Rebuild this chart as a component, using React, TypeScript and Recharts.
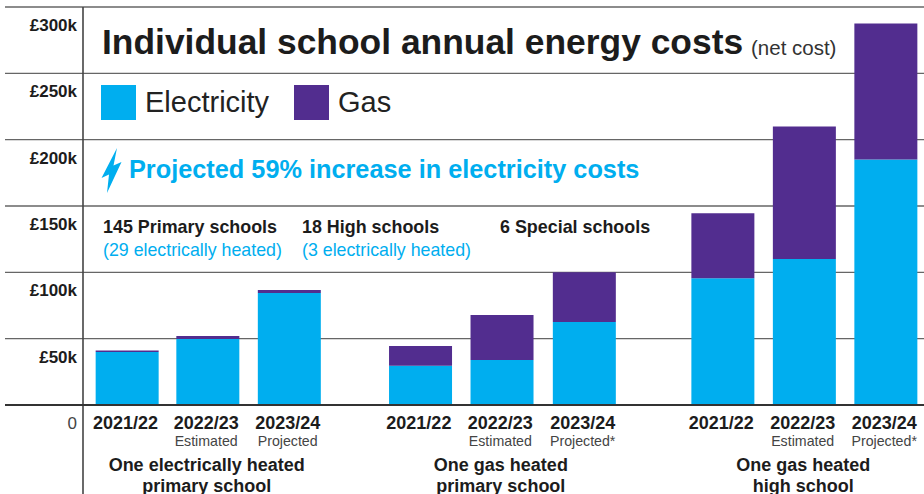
import { BarChart, Bar, XAxis, YAxis, CartesianGrid, Legend } from 'recharts'

const years = ['2021/22', '2022/23', '2023/24', '2021/22', '2022/23', '2023/24', '2021/22', '2022/23', '2023/24']
const notes = ['', 'Estimated', 'Projected', '', 'Estimated', 'Projected*', '', 'Estimated', 'Projected*']
const groupLabels = ['', 'One electrically heated|primary school', '', '', 'One gas heated|primary school', '', '', 'One gas heated|high school', '']
// bars sit in three clusters, so the x axis is a plain number line
const slots = [0, 0.99, 1.99, 3.6, 4.6, 5.61, 7.31, 8.31, 9.31]
const electricity = [40000, 49700, 84500, 29500, 34000, 62500, 95600, 110000, 185000]
const gas = [1000, 2300, 2100, 15000, 33800, 37500, 49000, 100000, 102500]
const yTicks = [0, 50000, 100000, 150000, 200000, 250000, 300000]

const BLUE = '#00aeef'
const PURPLE = '#522d8f'
const INK = '#1c1c1c'
const FONT = '"Liberation Sans", Arial, sans-serif'

const chartData = slots.map((slot, i) => ({
  slot,
  electricity: electricity[i],
  gas: gas[i],
}))

function YTick({ y, payload }: any) {
  const v = payload.value
  return (
    <text x={77} y={y + 24} textAnchor="end" fontFamily={FONT} fontSize={17} fontWeight={v === 0 ? 400 : 700} fill={v === 0 ? '#444' : INK}>
      {v === 0 ? '0' : `£${v / 1000}k`}
    </text>
  )
}

function XTick({ x, payload }: any) {
  const i = slots.indexOf(payload.value)
  const group = groupLabels[i] ? groupLabels[i].split('|') : []
  return (
    <g fontFamily={FONT} textAnchor="middle">
      <text x={x - 1.5} y={429} fontSize={18} fontWeight={700} fill={INK}>{years[i]}</text>
      {notes[i] && <text x={x - 1.5} y={446} fontSize={14.2} fill="#444">{notes[i]}</text>}
      {group.map((line, n) => (
        <text key={n} x={x - 1} y={471 + n * 20.5} fontSize={18} fontWeight={700} fill={INK}>{line}</text>
      ))}
    </g>
  )
}

function LegendContent() {
  const items = [
    { label: 'Electricity', color: BLUE, width: 193 },
    { label: 'Gas', color: PURPLE, width: 100 },
  ]
  return (
    <div style={{ display: 'flex', fontFamily: FONT, fontSize: 29, color: '#222', lineHeight: '35px' }}>
      {items.map((it) => (
        <div key={it.label} style={{ display: 'flex', width: it.width }}>
          <span style={{ width: 35, height: 35, background: it.color, marginRight: 9 }} />
          <span>{it.label}</span>
        </div>
      ))}
    </div>
  )
}

export default function App() {
  return (
    <div style={{ position: 'absolute', left: 0, top: 0, width: 924, height: 494, overflow: 'hidden', background: '#fff' }}>
      <BarChart width={924} height={494} data={chartData} margin={{ top: 7, right: 0, bottom: 0, left: 5 }}>
        <CartesianGrid horizontal vertical={false} stroke="#666" strokeWidth={1.3} />
        <XAxis
          dataKey="slot"
          type="number"
          domain={[-1.497, 9.78]}
          ticks={slots}
          interval={0}
          height={89}
          tick={<XTick />}
          tickLine={false}
          axisLine={{ stroke: '#333', strokeWidth: 2 }}
        />
        <YAxis
          mirror
          type="number"
          domain={[0, 300000]}
          ticks={yTicks}
          interval={0}
          tick={<YTick />}
          tickLine={false}
          axisLine={false}
        />
        <Legend
          layout="horizontal"
          verticalAlign="middle"
          content={<LegendContent />}
          wrapperStyle={{ left: 101, top: 85, width: 300, bottom: 'auto' }}
        />
        <Bar dataKey="electricity" name="Electricity" stackId="a" fill={BLUE} barSize={63} isAnimationActive={false} />
        <Bar dataKey="gas" name="Gas" stackId="a" fill={PURPLE} barSize={63} isAnimationActive={false} />

        <line x1={83} y1={7} x2={83} y2={494} stroke="#444" strokeWidth={1.6} />
        <g fontFamily={FONT}>
          <text x={102} y={54} fontSize={35.4} fontWeight={700} fill={INK}>Individual school annual energy costs</text>
          <text x={751} y={55} fontSize={20.5} fill="#333">(net cost)</text>
          <polygon points="117,148 101.5,178 109,174.5 107,193 121.5,162 113.5,165.5" fill={BLUE} />
          <text x={129} y={178} fontSize={25.3} fontWeight={700} fill={BLUE}>Projected 59% increase in electricity costs</text>
          <text x={103} y={233} fontSize={17.9} fontWeight={700} fill={INK}>145 Primary schools</text>
          <text x={103} y={256} fontSize={17.8} fill={BLUE}>(29 electrically heated)</text>
          <text x={302} y={233} fontSize={17.9} fontWeight={700} fill={INK}>18 High schools</text>
          <text x={302} y={256} fontSize={17.8} fill={BLUE}>(3 electrically heated)</text>
          <text x={500} y={233} fontSize={17.9} fontWeight={700} fill={INK}>6 Special schools</text>
        </g>
      </BarChart>
    </div>
  )
}
